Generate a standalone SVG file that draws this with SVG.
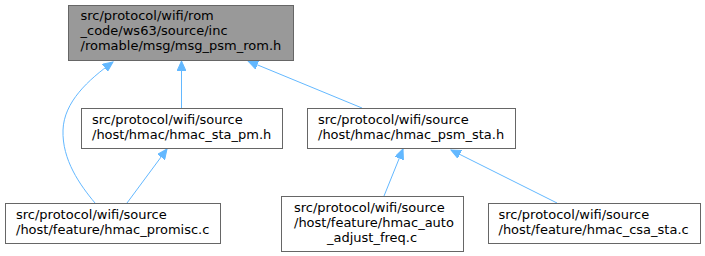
<svg xmlns="http://www.w3.org/2000/svg" width="705" height="256" viewBox="0 0 705 256">
<style>
.n rect{fill:#ffffff;stroke:#666666;stroke-width:1}
.n.root rect{fill:#999999}
.n text{font-family:"DejaVu Sans",sans-serif;font-size:13px;fill:#000000}
.e path{fill:none;stroke:#63b8ff;stroke-width:1;marker-end:url(#ah)}
</style>
<defs>
<marker id="ah" markerUnits="userSpaceOnUse" markerWidth="11" markerHeight="9" refX="10" refY="4.5" orient="auto">
<path d="M0,0 L10,4.5 L0,9 z" fill="#63b8ff" stroke="#63b8ff" stroke-width="1"/>
</marker>
</defs>
<rect width="705" height="256" fill="#ffffff"/>
<g id="edges" class="e">
<path d="M95,203 C80,185 62,160 63,130 C64,102 88,80 113,62"/>
<path d="M181.5,108 L181.5,61"/>
<path d="M362,108 L248,61"/>
<path d="M127,203 L167,149"/>
<path d="M384,196 L403,149"/>
<path d="M557,203 L451,150"/>
</g>
<g id="n_root" class="n root">
<rect x="68.5" y="5.5" width="225" height="55"/>
<text x="80.5" y="20">src/protocol/wifi/rom</text>
<text x="80.5" y="35">_code/ws63/source/inc</text>
<text x="80.5" y="50">/romable/msg/msg_psm_rom.h</text>
</g>
<g id="n_sta_pm" class="n">
<rect x="81.5" y="108.5" width="201" height="40"/>
<text x="92" y="124">src/protocol/wifi/source</text>
<text x="92" y="139">/host/hmac/hmac_sta_pm.h</text>
</g>
<g id="n_psm_sta" class="n">
<rect x="307.5" y="108.5" width="208" height="40"/>
<text x="318" y="124">src/protocol/wifi/source</text>
<text x="318" y="139">/host/hmac/hmac_psm_sta.h</text>
</g>
<g id="n_promisc" class="n">
<rect x="5.5" y="203.5" width="215" height="40"/>
<text x="16" y="219">src/protocol/wifi/source</text>
<text x="16" y="234">/host/feature/hmac_promisc.c</text>
</g>
<g id="n_auto" class="n">
<rect x="281.5" y="196.5" width="182" height="55"/>
<text x="294" y="212">src/protocol/wifi/source</text>
<text x="294" y="227">/host/feature/hmac_auto</text>
<text x="372" y="242" text-anchor="middle">_adjust_freq.c</text>
</g>
<g id="n_csa" class="n">
<rect x="488.5" y="203.5" width="212" height="40"/>
<text x="498.5" y="219">src/protocol/wifi/source</text>
<text x="498.5" y="234">/host/feature/hmac_csa_sta.c</text>
</g>
</svg>
